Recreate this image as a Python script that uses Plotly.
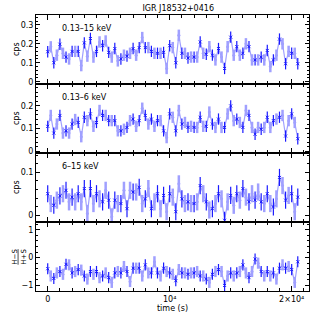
import plotly.graph_objects as go
from plotly.subplots import make_subplots

# bin start times (s), 250 s bins
time_s = [0, 250, 500, 750, 1000, 1250, 1500, 1750, 2000, 2250, 2500, 2750, 3000, 3250,
          3500, 3750, 4000, 4250, 4500, 4750, 5000, 5250, 5500, 5750, 6000, 6250, 6500,
          6750, 7000, 7250, 7500, 7750, 8000, 8250, 8500, 8750, 9000, 9250, 9500, 9750,
          10000, 10250, 10500, 10750, 11000, 11250, 11500, 11750, 12000, 12250, 12500,
          12750, 13000, 13250, 13500, 13750, 14000, 14250, 14500, 14750, 15000, 15250,
          15500, 15750, 16000, 16250, 16500, 16750, 17000, 17250, 17500, 17750, 18000,
          18250, 18500, 18750, 19000, 19250, 19500, 19750, 20000, 20250, 20500]

rate_full = [0.158, 0.184, 0.10, 0.14, 0.198, 0.15, 0.13, 0.12, 0.16, 0.16, 0.16, 0.085,
             0.205, 0.135, 0.228, 0.13, 0.16, 0.21, 0.19, 0.215, 0.155, 0.13, 0.175, 0.11,
             0.12, 0.14, 0.135, 0.15, 0.175, 0.14, 0.18, 0.233, 0.18, 0.18, 0.16, 0.15,
             0.15, 0.15, 0.155, 0.07, 0.19, 0.18, 0.10, 0.245, 0.15, 0.15, 0.125, 0.13,
             0.13, 0.13, 0.21, 0.15, 0.145, 0.185, 0.14, 0.115, 0.175, 0.13, 0.07, 0.185,
             0.235, 0.14, 0.185, 0.14, 0.15, 0.20, 0.185, 0.115, 0.115, 0.115, 0.13, 0.115,
             0.165, 0.08, 0.115, 0.14, 0.225, 0.20, 0.095, 0.16, 0.15, 0.15, 0.095]

rate_soft = [0.11, 0.158, 0.08, 0.12, 0.158, 0.08, 0.09, 0.08, 0.12, 0.14, 0.127, 0.064,
             0.15, 0.135, 0.165, 0.11, 0.127, 0.18, 0.158, 0.158, 0.135, 0.135, 0.135, 0.09,
             0.09, 0.097, 0.105, 0.135, 0.142, 0.11, 0.135, 0.19, 0.158, 0.12, 0.142, 0.11,
             0.135, 0.135, 0.09, 0.06, 0.165, 0.15, 0.09, 0.18, 0.12, 0.127, 0.105, 0.11,
             0.105, 0.105, 0.15, 0.11, 0.11, 0.173, 0.12, 0.105, 0.142, 0.105, 0.105, 0.165,
             0.20, 0.135, 0.142, 0.127, 0.105, 0.18, 0.158, 0.105, 0.075, 0.105, 0.097, 0.105,
             0.15, 0.105, 0.135, 0.142, 0.15, 0.158, 0.067, 0.135, 0.165, 0.127, 0.055]

rate_hard = [0.05, 0.027, 0.023, 0.035, 0.045, 0.05, 0.058, 0.031, 0.042, 0.031, 0.05, 0.031,
             0.062, 0.004, 0.062, 0.027, 0.05, 0.038, 0.031, 0.058, 0.035, -0.004, 0.035, 0.027,
             0.027, 0.058, 0.015, 0.058, 0.054, 0.054, 0.065, 0.027, 0.038, 0.062, 0.015, 0.031,
             0.05, 0.015, 0.046, 0.008, 0.05, 0.042, 0.008, 0.073, 0.038, 0.027, 0.031, 0.027,
             0.027, 0.031, 0.069, 0.05, 0.031, 0.012, 0.015, 0.027, 0.05, 0.038, -0.012, 0.031,
             0.046, 0.023, 0.05, 0.035, 0.062, 0.042, 0.031, 0.05, 0.035, 0.054, 0.031, 0.027,
             0.05, 0.027, 0.019, 0.038, 0.088, 0.069, 0.035, 0.046, 0.05, 0.008, 0.042]

hardness = [-0.4, -0.66, -0.75, -0.55, -0.5, -0.6, -0.24, -0.26, -0.55, -0.5, -0.43, -0.45,
            -0.66, -0.77, -0.5, -0.6, -0.5, -0.72, -0.66, -0.55, -0.72, -0.89, -0.55, -0.5,
            -0.55, -0.32, -0.5, -0.86, -0.38, -0.38, -0.38, -0.66, -0.26, -0.55, -0.55, -0.15,
            -0.55, -0.66, -0.38, -0.5, -0.55, -0.6, -0.83, -0.43, -0.55, -0.55, -0.6, -0.55,
            -0.55, -0.5, -0.66, -0.66, -0.77, -0.89, -0.6, -0.5, -0.43, -0.5, -1.0, -0.66,
            -0.55, -0.66, -0.55, -0.5, -0.26, -0.55, -0.72, -0.5, -0.05, -0.2, -0.5, -0.66,
            -0.5, -0.66, -0.55, -0.77, -0.38, -0.26, -0.38, -0.32, -0.43, -0.89, -0.15]

panels = [
    (rate_full, 0.03, "0.13\u201315 keV", [-0.012, 0.352], [0, 0.1, 0.2, 0.3], ["0", "0.1", "0.2", "0.3"], 0.02),
    (rate_soft, 0.025, "0.13\u20136 keV", [-0.008, 0.297], [0, 0.1, 0.2], ["0", "0.1", "0.2"], 0.02),
    (rate_hard, 0.02, "6\u201315 keV", [-0.016, 0.145], [0, 0.1], ["0", "0.1"], 0.02),
    (hardness, 0.2, None, [-1.2, 1.28], [-1, 0, 1], ["\u22121", "0", "1"], 0.2),
]

DARK = "#1a1aff"
LIGHT = "#a0a0ff"
FONT = "DejaVu Sans"

fig = make_subplots(rows=4, cols=1, shared_xaxes=True, vertical_spacing=0)

for r, (vals, err, label, yr, tv, tt, minor) in enumerate(panels, start=1):
    fig.add_hline(y=0, line_color="#c8c8c8", line_width=1.5, row=r, col=1)
    # connecting line
    fig.add_trace(go.Scatter(x=time_s, y=vals, mode="lines",
                             line=dict(color=LIGHT, width=1.2), hoverinfo="skip"), row=r, col=1)
    # interleaved light points
    fig.add_trace(go.Scatter(x=time_s[1::2], y=vals[1::2], mode="markers",
                             marker=dict(color=LIGHT, size=3),
                             error_y=dict(type="constant", value=err, color=LIGHT,
                                          thickness=2.5, width=0)), row=r, col=1)
    # dark points
    fig.add_trace(go.Scatter(x=time_s[0::2], y=vals[0::2], mode="markers",
                             marker=dict(color=DARK, size=3, symbol="x-thin",
                                         line=dict(color=DARK, width=1)),
                             error_y=dict(type="constant", value=err, color=DARK,
                                          thickness=1.2, width=0)), row=r, col=1)
    fig.update_yaxes(range=yr, tickvals=tv, ticktext=tt, row=r, col=1, automargin=False,
                     showline=True, linecolor="black", linewidth=1, mirror="allticks",
                     ticks="inside", ticklen=4, tickcolor="black", showgrid=False,
                     zeroline=False, tickfont=dict(size=8, family=FONT, color="black"),
                     minor=dict(dtick=minor, ticks="inside", ticklen=2, tickcolor="black"))
    fig.update_xaxes(range=[-960, 21420], tickvals=[0, 10000, 20000],
                     ticktext=["0", "10\u2074", "2\u00d710\u2074"], row=r, col=1,
                     automargin=False,
                     showline=True, linecolor="black", linewidth=1, mirror="allticks",
                     ticks="inside", ticklen=5, tickcolor="black", showgrid=False,
                     zeroline=False, tickfont=dict(size=8, family=FONT, color="black"),
                     minor=dict(dtick=1000, ticks="inside", ticklen=3, tickcolor="black"))
    yref = "y domain" if r == 1 else f"y{r} domain"
    if label:
        fig.add_annotation(text=label, xref="paper", yref=yref, x=0.088, y=0.8,
                           xanchor="left", yanchor="middle", showarrow=False,
                           font=dict(size=8, family=FONT, color="black"))
        fig.add_annotation(text="cps", xref="paper", yref=yref, x=-0.095, y=0.5,
                           textangle=-90, showarrow=False,
                           font=dict(size=8, family=FONT, color="black"))
    else:
        fig.add_annotation(text="<u>H\u2212S</u><br>H+S", xref="paper", yref=yref,
                           x=-0.1, y=0.5, textangle=-90, showarrow=False,
                           font=dict(size=7, family=FONT, color="black"))

fig.update_xaxes(title=dict(text="time (s)", standoff=2,
                            font=dict(size=8, family=FONT, color="black")), row=4, col=1)

fig.update_layout(
    width=327, height=327,
    margin=dict(l=36, r=18, t=15, b=36),
    paper_bgcolor="white", plot_bgcolor="white",
    showlegend=False,
    title=dict(text="IGR J18532+0416", x=0.545, xanchor="center", y=0.985, yanchor="top",
               font=dict(size=8, family=FONT, color="black")),
)

fig.write_html("out.html", config={"displayModeBar": False},
               post_script="document.body.style.margin = '0';")
